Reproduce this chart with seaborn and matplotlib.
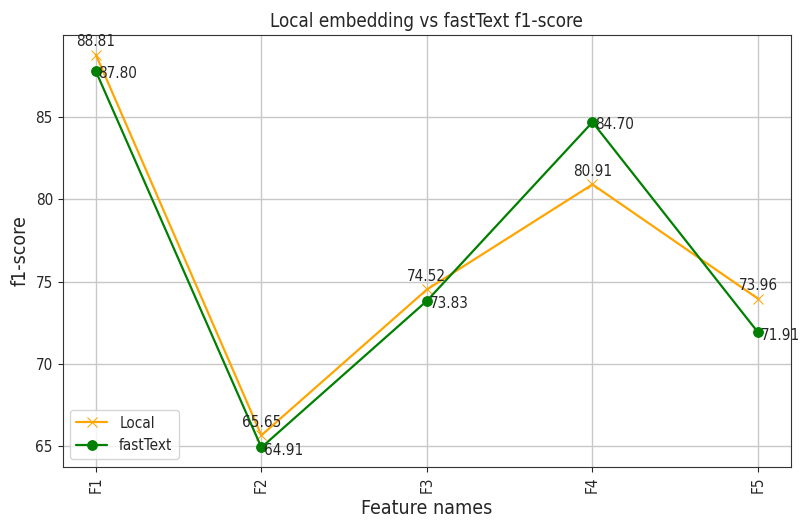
import numpy as np
import pandas as pd
import matplotlib
matplotlib.use("Agg")
import matplotlib.pyplot as plt
import seaborn as sns

features = ["F1", "F2", "F3", "F4", "F5"]
local_scores = [88.81, 65.65, 74.52, 80.91, 73.96]
fasttext_scores = [87.80, 64.91, 73.83, 84.70, 71.91]

sns.set_style("ticks")
plt.rcParams['font.family'] = ['DejaVu Sans']
plt.rcParams['font.stretch'] = 'condensed'

df = pd.DataFrame({"feature": features, "Local": local_scores, "fastText": fasttext_scores})

fig, ax = plt.subplots(figsize=(8.04, 5.29), dpi=100)
sns.lineplot(x='feature', y='Local', data=df, marker='x', markersize=7, color='orange',
             label='Local', ax=ax, sort=False, mec='orange', linewidth=1.6)
sns.lineplot(x='feature', y='fastText', data=df, marker='o', markersize=7, color='green',
             label='fastText', ax=ax, sort=False, mec='green', linewidth=1.6)

# valores em cada ponto
for i, v in enumerate(local_scores):
    ax.annotate("%.2f" % v, (i, v), xytext=(0, 4), textcoords='offset points',
                ha='center', va='bottom', fontsize=11)
for i, v in enumerate(fasttext_scores):
    ax.annotate("%.2f" % v, (i, v), xytext=(2, -2), textcoords='offset points',
                ha='left', va='center', fontsize=11)

ax.set_title('Local embedding vs fastText f1-score', fontsize=13.5)
ax.set_xlabel('Feature names', fontsize=14)
ax.set_ylabel('f1-score', fontsize=14)
ax.set_yticks([65, 70, 75, 80, 85])
ax.tick_params(axis='x', labelrotation=90, labelsize=11)
ax.tick_params(axis='y', labelsize=11)
ax.grid(True, color='#c8c8c8', linewidth=1)
for s in ax.spines.values():
    s.set_color('#333333')
ax.legend(loc='lower left', fontsize=11)
fig.subplots_adjust(left=0.078, right=0.984, top=0.934, bottom=0.117)
fig.savefig("out.png", dpi=100)
